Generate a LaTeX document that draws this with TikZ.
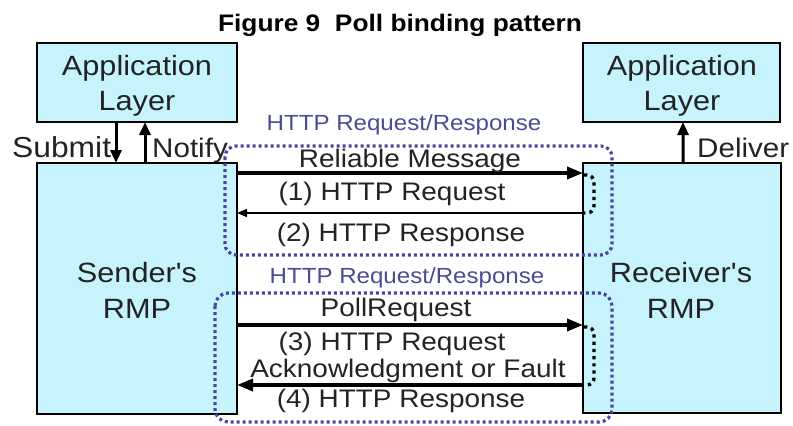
\documentclass[tikz,border=0pt]{standalone}
\usepackage{fontspec}
\setmainfont[FakeStretch=1.1,Ligatures=TeXOff]{Liberation Sans}
\usetikzlibrary{arrows.meta,calc}
\definecolor{boxfill}{RGB}{198,243,252}
\definecolor{dotblue}{RGB}{75,70,160}
\definecolor{txtgray}{RGB}{35,35,35}
\definecolor{lblblue}{RGB}{75,75,150}
\tikzset{
  box/.style={draw=black, line width=1.4bp, fill=boxfill, inner sep=0pt, outer sep=0pt},
  txt/.style={anchor=base, inner sep=0pt, text=txtgray, font=\fontsize{25.5}{30}\selectfont},
  bigtxt/.style={txt, font=\fontsize{28}{33}\selectfont},
  sidetxt/.style={txt, font=\fontsize{27}{32}\selectfont},
  lbl/.style={anchor=base, inner sep=0pt, text=lblblue, font=\fontsize{22}{26}\selectfont},
  thickarrow/.style={line width=3.5bp, -{Triangle[length=16bp,width=12bp]}},
  thinarrow/.style={line width=1.4bp, -{Triangle[length=10bp,width=8bp]}},
  vertarrow/.style={line width=3bp, -{Triangle[length=13bp,width=11bp]}},
  dotbox/.style={draw=dotblue, line width=3.2bp, dash pattern=on 3bp off 3bp},
  blackdots/.style={draw=black, line width=3.4bp, dash pattern=on 3.2bp off 4bp, rounded corners=7bp}
}
\begin{document}
\begin{tikzpicture}[x=1bp,y=-1bp]
\useasboundingbox (0,0) rectangle (793,425);

% title
\node[anchor=base, inner sep=0pt, font=\bfseries\fontsize{24}{28}\selectfont] (title) at (400,31) {Figure 9\ \ Poll binding pattern};

% boxes
\node[box, minimum width=200bp, minimum height=79bp] (lapp) at (137,82.5) {};
\node[box, minimum width=197bp, minimum height=79bp] (rapp) at (681.5,82.5) {};
\node[box, minimum width=200bp, minimum height=251bp] (lrmp) at (137,288.5) {};
\node[box, minimum width=198bp, minimum height=250bp] (rrmp) at (682,288) {};

\node[bigtxt] (lapp1) at (137,75) {Application};
\node[bigtxt] (lapp2) at (137,110) {Layer};
\node[bigtxt] (rapp1) at (682,75) {Application};
\node[bigtxt] (rapp2) at (682,110) {Layer};
\node[bigtxt] (lrmp1) at (137,282) {Sender's};
\node[bigtxt] (lrmp2) at (137,318) {RMP};
\node[bigtxt] (rrmp1) at (681,282) {Receiver's};
\node[bigtxt] (rrmp2) at (681,318) {RMP};

% vertical arrows
\draw[vertarrow] ($(lapp.south west)+(79,0)$) -- ($(lrmp.north west)+(79,0)$);
\draw[vertarrow] ($(lrmp.north west)+(108,0)$) -- ($(lapp.south west)+(108,0)$);
\draw[vertarrow] ($(rrmp.north)+(1,0)$) -- ($(rapp.south)+(1.5,0)$);
\node[sidetxt, anchor=base west, font=\fontsize{29}{33}\selectfont] (submit) at (12,157) {Submit};
\node[sidetxt, anchor=base west] (notify) at (152,157) {Notify};
\node[sidetxt, anchor=base west] (deliver) at (697,157) {Deliver};

% dotted request/response groups
\draw[dotbox, rounded corners=11bp] (225,146) rectangle (612,255);
\draw[dotbox, rounded corners=13bp] (215,293) rectangle (612,422);
\node[lbl] (grp1) at (404,130) {HTTP Request/Response};
\node[lbl] (grp2) at (407,283) {HTTP Request/Response};

% message arrows
\draw[thickarrow] ($(lrmp.north east)+(0,10)$) -- ($(rrmp.north west)+(0,10)$);
\draw[thinarrow] ($(rrmp.north west)+(0,50)$) -- ($(lrmp.north east)+(0,50)$);
\draw[thickarrow] ($(lrmp.north east)+(0,162)$) -- ($(rrmp.north west)+(0,162)$);
\draw[thickarrow] ($(rrmp.north west)+(0,222)$) -- ($(lrmp.north east)+(0,222)$);

% black dotted brackets
\draw[blackdots] (584,175) -- (594,175) -- (594,213) -- (584,213);
\draw[blackdots] (584,327) -- (594,327) -- (594,385) -- (584,385);

% labels
\node[txt] (m1) at (410,167) {Reliable Message};
\node[txt] (m2) at (392,200) {(1) HTTP Request};
\node[txt] (m3) at (401,241) {(2) HTTP Response};
\node[txt] (m4) at (396,316) {PollRequest};
\node[txt] (m5) at (392,350) {(3) HTTP Request};
\node[txt] (m6) at (408,377) {Acknowledgment or Fault};
\node[txt] (m7) at (401,407) {(4) HTTP Response};
\end{tikzpicture}
\end{document}
